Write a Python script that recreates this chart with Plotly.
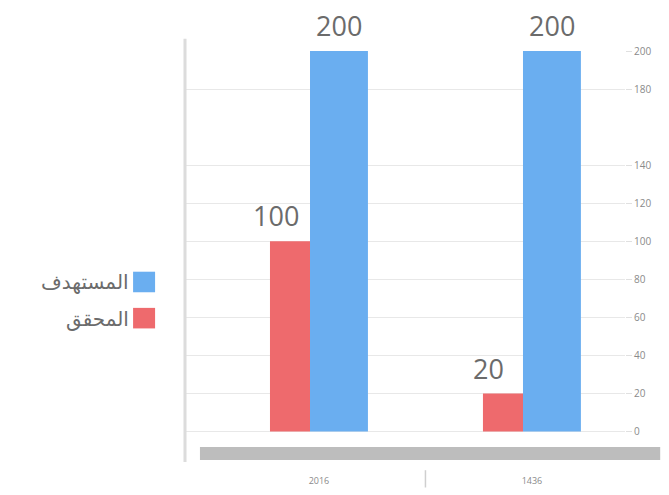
import plotly.graph_objects as go

categories = ["2016", "1436"]
series_names = ["المحقق", "المستهدف"]
achieved = [100, 20]
target = [200, 200]
y_ticks = [0, 20, 40, 60, 80, 100, 120, 140, 180, 200]

RED = "#EE6A6D"
BLUE = "#6AAEF0"
TEXT = "#6b6b6b"
FONT = "Open Sans, DejaVu Sans, sans-serif"

x_idx = list(range(len(categories)))
red_off, red_w = -0.23, 0.188
blue_off, blue_w = -0.042, 0.272

fig = go.Figure()
fig.add_trace(go.Bar(x=x_idx, y=achieved, name=series_names[0], marker_color=RED,
                     offset=red_off, width=red_w, marker_line_width=0))
fig.add_trace(go.Bar(x=x_idx, y=target, name=series_names[1], marker_color=BLUE,
                     offset=blue_off, width=blue_w, marker_line_width=0))

annotations = []
for i, v in enumerate(achieved):
    annotations.append(dict(x=i + red_off + red_w / 2, y=v, xref="x", yref="y",
                            text=str(v), showarrow=False, yanchor="bottom",
                            yshift=5, xshift=-14,
                            font=dict(size=27, color=TEXT, family=FONT)))
for i, v in enumerate(target):
    annotations.append(dict(x=i + blue_off + blue_w / 2, y=v, xref="x", yref="y",
                            text=str(v), showarrow=False, yanchor="bottom",
                            yshift=5,
                            font=dict(size=27, color=TEXT, family=FONT)))

# custom legend (text to the left of the swatch, RTL style)
legend_items = [(series_names[1], BLUE, 0.438), (series_names[0], RED, 0.350)]
shapes = []
for name, col, yc in legend_items:
    annotations.append(dict(x=-0.122, y=yc, xref="paper", yref="paper", text=name,
                            showarrow=False, xanchor="right", yanchor="middle",
                            font=dict(size=20, color=TEXT, family=FONT)))
    shapes.append(dict(type="rect", xref="paper", yref="paper",
                       x0=-0.118, x1=-0.068, y0=yc - 0.025, y1=yc + 0.025,
                       fillcolor=col, line=dict(width=0)))

# decorative floor band, left border and category separator
shapes.append(dict(type="rect", xref="paper", yref="paper", x0=0.034, x1=1.08,
                   y0=0.005, y1=0.0365, fillcolor="#bdbdbd", line=dict(width=0),
                   layer="below"))
shapes.append(dict(type="line", xref="paper", yref="paper", x0=0, x1=0,
                   y0=0, y1=1.03, line=dict(color="#dcdcdc", width=3)))
shapes.append(dict(type="line", xref="x", yref="paper", x0=0.5, x1=0.5,
                   y0=-0.02, y1=-0.062, line=dict(color="#cfcfcf", width=1.5)))

# page body has an 8px default margin, so the figure is sized/offset for it
fig.update_layout(
    width=661, height=487,
    margin=dict(l=177, r=44, t=43, b=33, autoexpand=False),
    plot_bgcolor="white", paper_bgcolor="white",
    barmode="overlay", showlegend=False,
    annotations=annotations, shapes=shapes,
    xaxis=dict(range=[-0.629, 1.437], tickvals=x_idx, ticktext=categories,
               showgrid=False, zeroline=False, showline=False, ticks="",
               ticklabelstandoff=12, automargin=False,
               tickfont=dict(size=9, color="#8a8a8a", family=FONT)),
    yaxis=dict(range=[-16, 200], side="right", tickvals=y_ticks,
               showgrid=True, gridcolor="#e8e8e8", gridwidth=1,
               zeroline=False, showline=False, ticks="outside", ticklen=6,
               tickcolor="#e0e0e0", automargin=False,
               tickfont=dict(size=10, color="#8a8a8a", family=FONT)),
)

fig.write_html("out.html")
